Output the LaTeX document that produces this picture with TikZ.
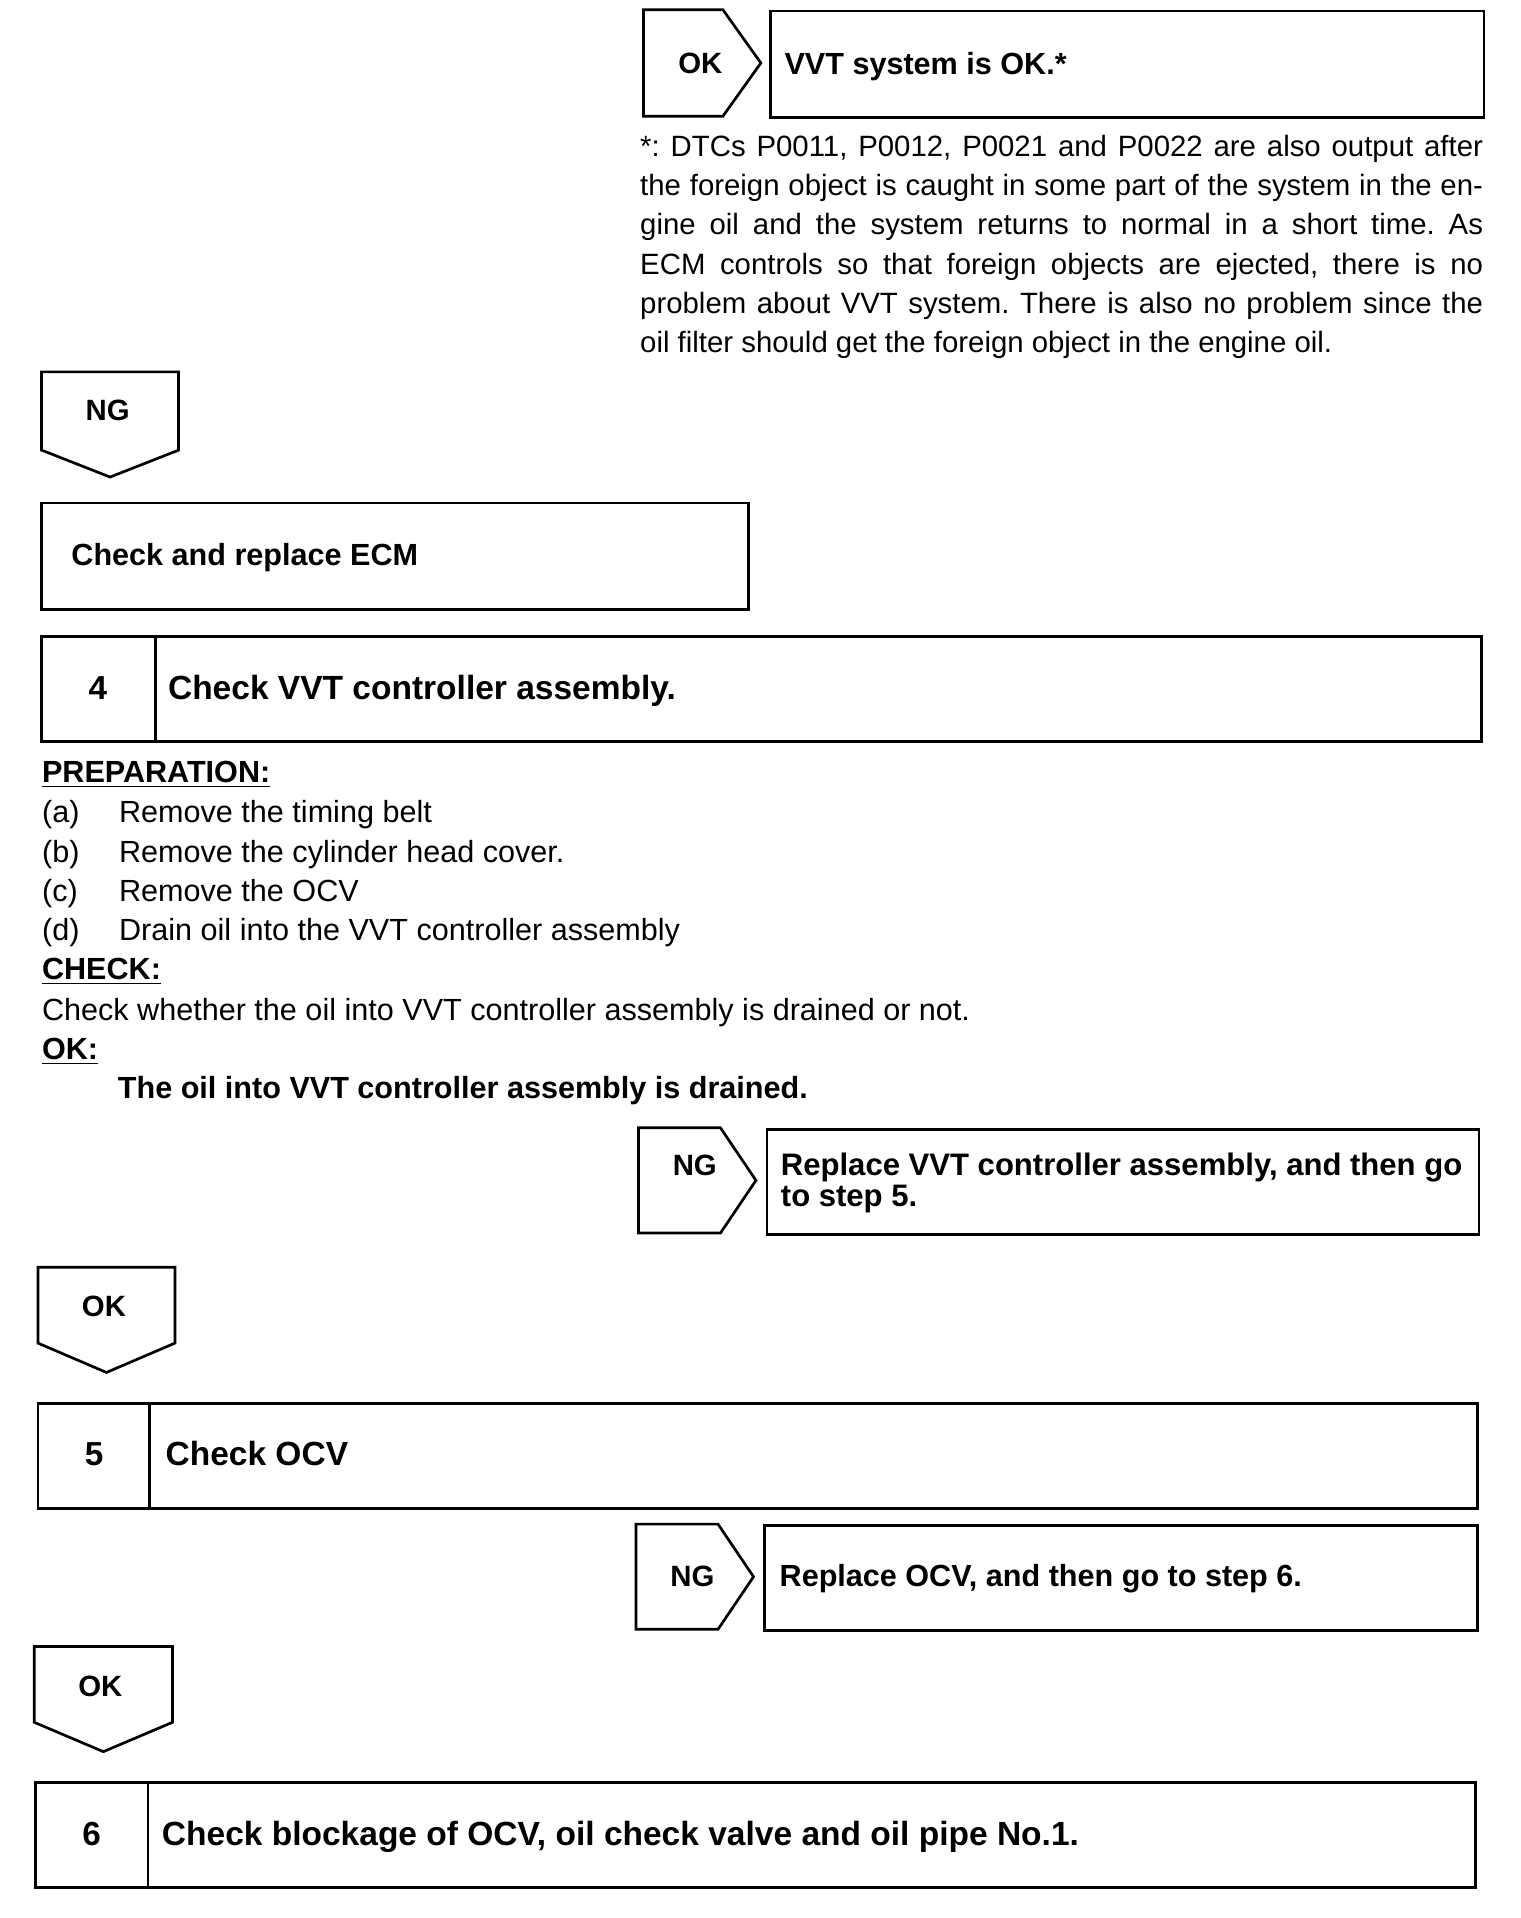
\documentclass[tikz,border=0pt]{standalone}
\usepackage{fontspec}
\setmainfont{Liberation Sans}
\frenchspacing
\newcommand\fsz[1]{\fontsize{#1}{#1}\selectfont}
\tikzset{
  frame/.style={draw, line width=1.1pt, inner sep=0pt, anchor=north west},
  arrowshape/.style={draw, line width=1.1pt, line join=miter},
  tag/.style={anchor=base, inner sep=0pt, font=\fsz{12}\bfseries},
  body/.style={anchor=base west, inner sep=0pt, font=\fsz{12.5}},
  note/.style={anchor=base west, inner sep=0pt, font=\fsz{12}},
  bodyb/.style={anchor=base west, inner sep=0pt, font=\fsz{12.5}\bfseries},
  bodyc/.style={anchor=base west, inner sep=0pt, font=\fsz{12.7}\bfseries},
  title/.style={anchor=base west, inner sep=0pt, font=\fsz{13.7}\bfseries},
  num/.style={anchor=base, inner sep=0pt, font=\fsz{13.6}\bfseries},
}
\begin{document}
\frenchspacing
\begin{tikzpicture}[x=0.5pt,y=-0.5pt]
\path[use as bounding box] (0,0) rectangle (1243,1568);

% ---- OK -> VVT system is OK
\draw[arrowshape] (526,8) -- (591,8) -- (622,51.5) -- (591,95) -- (526,95) -- cycle;
\node[tag] (ok1) at (572.5,60) {OK};
\node[frame, minimum width=291.5pt, minimum height=43.5pt] (vvt) at (629,8) {};
\node[bodyb] (vvtt) at (641,61) {VVT system is OK.*};

% ---- footnote
\node[note] (fn1) at (523,128) {\makebox[344.5pt][s]{*: DTCs P0011, P0012, P0021 and P0022 are also output after}};
\node[note] (fn2) at (523,160) {\makebox[344.5pt][s]{the foreign object is caught in some part of the system in the en-}};
\node[note] (fn3) at (523,192) {\makebox[344.5pt][s]{gine oil and the system returns to normal in a short time. As}};
\node[note] (fn4) at (523,224) {\makebox[344.5pt][s]{ECM controls so that foreign objects are ejected, there is no}};
\node[note] (fn5) at (523,256) {\makebox[344.5pt][s]{problem about VVT system. There is also no problem since the}};
\node[note] (fn6) at (523,288) {oil filter should get the foreign object in the engine oil.};

% ---- NG down
\draw[arrowshape] (34,304) -- (146,304) -- (146,368) -- (90,390) -- (34,368) -- cycle;
\node[tag] (ng1) at (88,344) {NG};
\node[frame, minimum width=289pt, minimum height=43.5pt] (ecm) at (33,410) {};
\node[bodyb] (ecmt) at (58,462) {Check and replace ECM};

% ---- Step 4
\node[frame, minimum width=588.5pt, minimum height=43pt] (s4) at (33,519) {};
\draw[line width=1.1pt] (127,519) -- (127,605);
\node[num] (s4n) at (80,572) {4};
\node[title] (s4t) at (137,572) {Check VVT controller assembly.};

\node[bodyb] (prep) at (34,640) {\underline{PREPARATION:}};
\node[body] (pa) at (34,672) {(a)};
\node[body] (pat) at (97,672) {Remove the timing belt};
\node[body] (pb) at (34,705) {(b)};
\node[body] (pbt) at (97,705) {Remove the cylinder head cover.};
\node[body] (pc) at (34,737) {(c)};
\node[body] (pct) at (97,737) {Remove the OCV};
\node[body] (pd) at (34,769) {(d)};
\node[body] (pdt) at (97,769) {Drain oil into the VVT controller assembly};
\node[bodyb] (chk) at (34,801) {\underline{CHECK:}};
\node[body] (chkt) at (34,834) {Check whether the oil into VVT controller assembly is drained or not.};
\node[bodyb] (okl) at (34,866) {\underline{OK:}};
\node[bodyb] (okt) at (96,898) {The oil into VVT controller assembly is drained.};

% ---- NG -> replace VVT
\draw[arrowshape] (522,922) -- (589,922) -- (618,965) -- (589,1008) -- (522,1008) -- cycle;
\node[tag] (ng2) at (568,961) {NG};
\node[frame, minimum width=291pt, minimum height=43pt] (r5) at (626,922) {};
\node[bodyc] (r5a) at (638,961) {Replace VVT controller assembly, and then go};
\node[bodyc] (r5b) at (638,986) {to step 5.};

% ---- OK down
\draw[arrowshape] (31,1036) -- (143,1036) -- (143,1098) -- (87,1122) -- (31,1098) -- cycle;
\node[tag] (ok2) at (85,1076) {OK};

% ---- Step 5
\node[frame, minimum width=588.5pt, minimum height=43pt] (s5) at (30,1146) {};
\draw[line width=1.1pt] (122,1146) -- (122,1232);
\node[num] (s5n) at (77,1198) {5};
\node[title] (s5t) at (135,1198) {Check OCV};

% ---- NG -> replace OCV
\draw[arrowshape] (520,1246) -- (587,1246) -- (616,1289) -- (587,1332) -- (520,1332) -- cycle;
\node[tag] (ng3) at (566,1297) {NG};
\node[frame, minimum width=291.5pt, minimum height=43pt] (r6) at (624,1246) {};
\node[bodyb] (r6t) at (637,1297) {Replace OCV, and then go to step 6.};

% ---- OK down
\draw[arrowshape] (28,1346) -- (141,1346) -- (141,1408) -- (84.5,1432) -- (28,1408) -- cycle;
\node[tag] (ok3) at (82,1387) {OK};

% ---- Step 6
\node[frame, minimum width=588.5pt, minimum height=43pt] (s6) at (28,1456) {};
\draw[line width=1.1pt] (121,1456) -- (121,1542);
\node[num] (s6n) at (75,1509) {6};
\node[title] (s6t) at (132,1509) {Check blockage of OCV, oil check valve and oil pipe No.1.};
\end{tikzpicture}
\end{document}
